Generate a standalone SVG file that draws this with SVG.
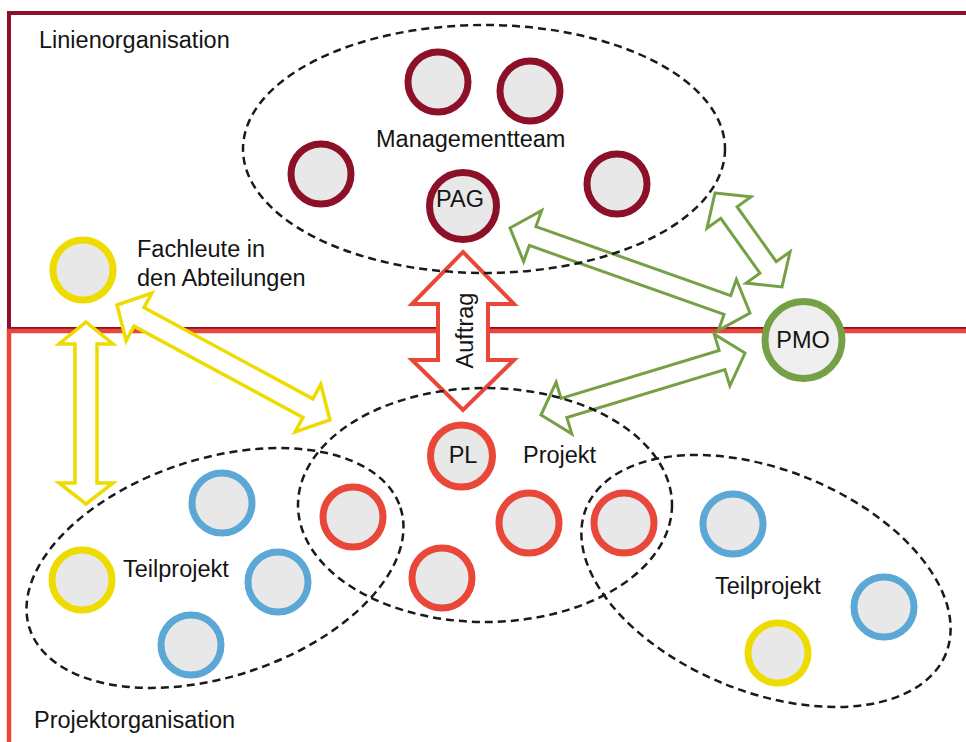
<svg xmlns="http://www.w3.org/2000/svg" width="966" height="742" viewBox="0 0 966 742">
<style>
text{font-family:"Liberation Sans",Arial,sans-serif;font-size:23.5px;fill:#141414}
.c{text-anchor:middle}
.grp{fill:none;stroke:#1a1a1a;stroke-width:2.5;stroke-dasharray:8 5}
.n{fill:#e8e8e8;stroke-width:7}
.dr{stroke:#8c1128}
.rd{stroke:#e8473a}
.ye{stroke:#eedb00}
.bl{stroke:#5ba7d5}
.gr{stroke:#76a046}
.ar{fill:#fff;stroke-linejoin:miter}
</style>
<rect width="966" height="742" fill="#fff"/>
<g id="linienorganisation">
<rect x="9" y="13" width="990" height="316" fill="none" stroke="#8c1128" stroke-width="4"/>
<text x="39" y="48">Linienorganisation</text>
</g>
<g id="projektorganisation">
<rect x="9" y="331" width="990" height="450" fill="none" stroke="#e8473a" stroke-width="4.5"/>
<text x="34" y="728">Projektorganisation</text>
</g>
<g id="connectors">
<polygon class="ar" stroke="#e8473a" stroke-width="4" points="463,252 514,304 488,304 488,360 514,360 463,410 412,360 438,360 438,304 412,304"/>
<text class="c" transform="translate(473,330.5) rotate(-90)" x="0" y="0">Auftrag</text>
<polygon class="ar" stroke="#eedb00" stroke-width="3.5" points="86,322 113,344 97,344 97,483 113,483 86,504 59,483 75,483 75,344 59,344"/>
<polygon class="ar" stroke="#eedb00" stroke-width="3.5" transform="translate(117,305) rotate(28.37)" points="0,0 25,-27 25,-10.5 217,-10.5 217,-27 242,0 217,27 217,10.5 25,10.5 25,27"/>
<polygon class="ar" stroke="#76a046" stroke-width="3" transform="translate(510,228) rotate(19.5)" points="0,0 24,-27 24,-10 230.6,-10 230.6,-27 254.6,0 230.6,27 230.6,10 24,10 24,27"/>
<polygon class="ar" stroke="#76a046" stroke-width="3" transform="translate(715,193) rotate(54.5)" points="0,0 24,-27 24,-10 91.4,-10 91.4,-27 115.4,0 91.4,27 91.4,10 24,10 24,27"/>
<polygon class="ar" stroke="#76a046" stroke-width="3" transform="translate(541,415) rotate(-16.9)" points="0,0 24,-27 24,-10 189.2,-10 189.2,-27 213.2,0 189.2,27 189.2,10 24,10 24,27"/>
</g>
<g id="groups">
<ellipse id="managementteam" class="grp" cx="484" cy="149" rx="241" ry="124"/>
<ellipse id="projekt" class="grp" cx="485" cy="505" rx="187" ry="117"/>
<ellipse id="teilprojekt-links" class="grp" cx="215" cy="568" rx="195" ry="109" transform="rotate(-18 215 568)"/>
<ellipse id="teilprojekt-rechts" class="grp" cx="766" cy="581" rx="194" ry="111" transform="rotate(22 766 581)"/>
</g>
<g id="management-nodes">
<circle class="n dr" cx="438" cy="82" r="30"/>
<circle class="n dr" cx="530" cy="91" r="30"/>
<circle class="n dr" cx="321" cy="174" r="30"/>
<circle class="n dr" cx="617" cy="184" r="30"/>
<text x="376" y="147">Managementteam</text>
</g>
<g id="pag">
<circle class="n dr" cx="463" cy="206" r="33.5"/>
<text class="c" x="460" y="207">PAG</text>
</g>
<g id="fachleute">
<circle class="n ye" cx="83" cy="270" r="30"/>
<text x="137" y="257">Fachleute in</text>
<text x="137" y="286">den Abteilungen</text>
</g>
<g id="pmo">
<circle class="n gr" cx="803.5" cy="340" r="38.5" stroke-width="8" style="fill:#efefef"/>
<text class="c" x="803" y="348">PMO</text>
</g>
<g id="pl">
<circle class="n rd" cx="461.5" cy="456" r="31"/>
<text class="c" x="463" y="463">PL</text>
</g>
<g id="projekt-nodes">
<circle class="n rd" cx="353" cy="517" r="30"/>
<circle class="n rd" cx="442" cy="578" r="30"/>
<circle class="n rd" cx="529" cy="523" r="30"/>
<circle class="n rd" cx="624" cy="523" r="30"/>
<text x="523" y="463">Projekt</text>
</g>
<g id="teilprojekt-links-nodes">
<circle class="n ye" cx="82" cy="580" r="30"/>
<circle class="n bl" cx="222" cy="503" r="30"/>
<circle class="n bl" cx="278" cy="582" r="30"/>
<circle class="n bl" cx="191" cy="645" r="30"/>
<text x="123" y="577">Teilprojekt</text>
</g>
<g id="teilprojekt-rechts-nodes">
<circle class="n bl" cx="733" cy="524" r="30"/>
<circle class="n bl" cx="884" cy="607" r="30"/>
<circle class="n ye" cx="778" cy="653" r="30"/>
<text x="715" y="594">Teilprojekt</text>
</g>
</svg>
